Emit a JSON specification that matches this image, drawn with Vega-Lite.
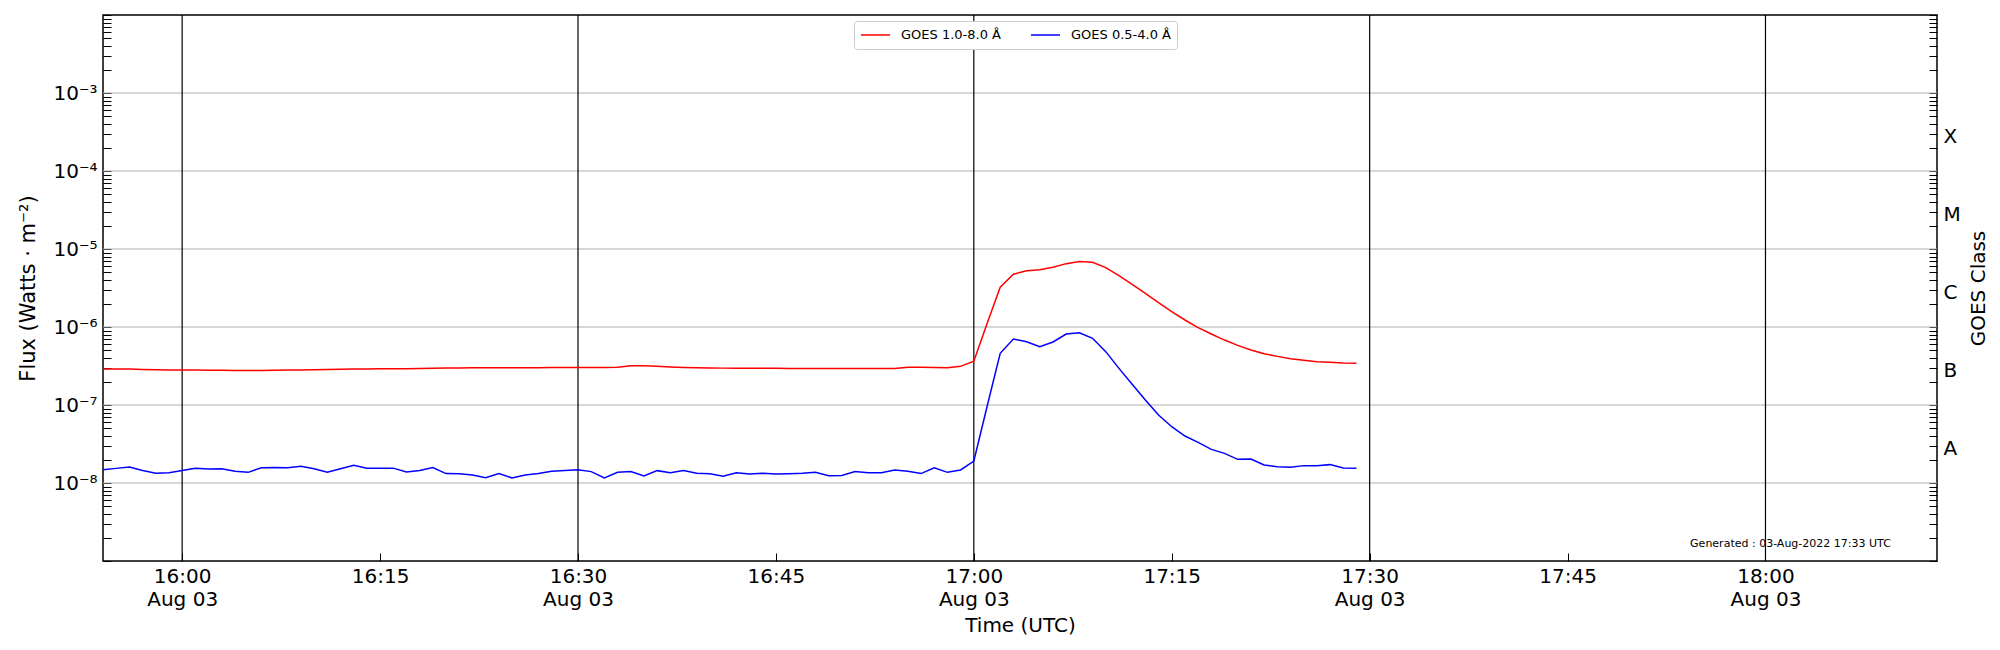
{
  "$schema": "https://vega.github.io/schema/vega-lite/v6.json",
  "width": 1834,
  "height": 546,
  "autosize": {"type": "none"},
  "padding": {"left": 103, "top": 15, "right": 63, "bottom": 89},
  "background": "white",
  "config": {
    "font": "DejaVu Sans",
    "view": {"stroke": "black", "strokeWidth": 1.5},
    "axis": {
      "grid": false,
      "domain": false,
      "tickColor": "black",
      "tickWidth": 1,
      "labelColor": "black",
      "titleColor": "black",
      "labelFont": "DejaVu Sans",
      "titleFont": "DejaVu Sans",
      "labelFontSize": 20,
      "titleFontSize": 20,
      "titleFontWeight": "normal",
      "labelFlush": false,
      "labelBound": false,
      "labelOverlap": false
    },
    "legend": {
      "orient": "none",
      "legendX": 751,
      "legendY": 6,
      "direction": "horizontal",
      "fillColor": "white",
      "strokeColor": "#cccccc",
      "cornerRadius": 3,
      "padding": 6,
      "symbolType": "stroke",
      "symbolSize": 841,
      "symbolStrokeWidth": 1.5,
      "clipHeight": 16,
      "labelFont": "DejaVu Sans",
      "labelFontSize": 13,
      "labelColor": "black",
      "labelOffset": 10,
      "columnPadding": 29
    }
  },
  "datasets": {
    "flux": [
      {"t": "2022-08-03T15:54:00Z", "long": 2.90e-7, "short": 1.48e-8},
      {"t": "2022-08-03T15:55:00Z", "long": 2.90e-7, "short": 1.54e-8},
      {"t": "2022-08-03T15:56:00Z", "long": 2.89e-7, "short": 1.60e-8},
      {"t": "2022-08-03T15:57:00Z", "long": 2.85e-7, "short": 1.45e-8},
      {"t": "2022-08-03T15:58:00Z", "long": 2.83e-7, "short": 1.33e-8},
      {"t": "2022-08-03T15:59:00Z", "long": 2.82e-7, "short": 1.35e-8},
      {"t": "2022-08-03T16:00:00Z", "long": 2.81e-7, "short": 1.45e-8},
      {"t": "2022-08-03T16:01:00Z", "long": 2.80e-7, "short": 1.54e-8},
      {"t": "2022-08-03T16:02:00Z", "long": 2.79e-7, "short": 1.51e-8},
      {"t": "2022-08-03T16:03:00Z", "long": 2.79e-7, "short": 1.52e-8},
      {"t": "2022-08-03T16:04:00Z", "long": 2.77e-7, "short": 1.41e-8},
      {"t": "2022-08-03T16:05:00Z", "long": 2.76e-7, "short": 1.37e-8},
      {"t": "2022-08-03T16:06:00Z", "long": 2.77e-7, "short": 1.57e-8},
      {"t": "2022-08-03T16:07:00Z", "long": 2.79e-7, "short": 1.58e-8},
      {"t": "2022-08-03T16:08:00Z", "long": 2.80e-7, "short": 1.57e-8},
      {"t": "2022-08-03T16:09:00Z", "long": 2.82e-7, "short": 1.64e-8},
      {"t": "2022-08-03T16:10:00Z", "long": 2.84e-7, "short": 1.52e-8},
      {"t": "2022-08-03T16:11:00Z", "long": 2.85e-7, "short": 1.37e-8},
      {"t": "2022-08-03T16:12:00Z", "long": 2.87e-7, "short": 1.52e-8},
      {"t": "2022-08-03T16:13:00Z", "long": 2.89e-7, "short": 1.69e-8},
      {"t": "2022-08-03T16:14:00Z", "long": 2.90e-7, "short": 1.55e-8},
      {"t": "2022-08-03T16:15:00Z", "long": 2.91e-7, "short": 1.54e-8},
      {"t": "2022-08-03T16:16:00Z", "long": 2.92e-7, "short": 1.55e-8},
      {"t": "2022-08-03T16:17:00Z", "long": 2.92e-7, "short": 1.38e-8},
      {"t": "2022-08-03T16:18:00Z", "long": 2.93e-7, "short": 1.45e-8},
      {"t": "2022-08-03T16:19:00Z", "long": 2.95e-7, "short": 1.58e-8},
      {"t": "2022-08-03T16:20:00Z", "long": 2.98e-7, "short": 1.32e-8},
      {"t": "2022-08-03T16:21:00Z", "long": 2.99e-7, "short": 1.31e-8},
      {"t": "2022-08-03T16:22:00Z", "long": 3.00e-7, "short": 1.27e-8},
      {"t": "2022-08-03T16:23:00Z", "long": 3.00e-7, "short": 1.17e-8},
      {"t": "2022-08-03T16:24:00Z", "long": 3.00e-7, "short": 1.32e-8},
      {"t": "2022-08-03T16:25:00Z", "long": 3.01e-7, "short": 1.16e-8},
      {"t": "2022-08-03T16:26:00Z", "long": 3.01e-7, "short": 1.27e-8},
      {"t": "2022-08-03T16:27:00Z", "long": 3.01e-7, "short": 1.32e-8},
      {"t": "2022-08-03T16:28:00Z", "long": 3.02e-7, "short": 1.41e-8},
      {"t": "2022-08-03T16:29:00Z", "long": 3.02e-7, "short": 1.45e-8},
      {"t": "2022-08-03T16:30:00Z", "long": 3.02e-7, "short": 1.48e-8},
      {"t": "2022-08-03T16:31:00Z", "long": 3.02e-7, "short": 1.40e-8},
      {"t": "2022-08-03T16:32:00Z", "long": 3.03e-7, "short": 1.16e-8},
      {"t": "2022-08-03T16:33:00Z", "long": 3.05e-7, "short": 1.37e-8},
      {"t": "2022-08-03T16:34:00Z", "long": 3.18e-7, "short": 1.40e-8},
      {"t": "2022-08-03T16:35:00Z", "long": 3.18e-7, "short": 1.23e-8},
      {"t": "2022-08-03T16:36:00Z", "long": 3.13e-7, "short": 1.44e-8},
      {"t": "2022-08-03T16:37:00Z", "long": 3.08e-7, "short": 1.35e-8},
      {"t": "2022-08-03T16:38:00Z", "long": 3.03e-7, "short": 1.45e-8},
      {"t": "2022-08-03T16:39:00Z", "long": 3.00e-7, "short": 1.33e-8},
      {"t": "2022-08-03T16:40:00Z", "long": 2.98e-7, "short": 1.31e-8},
      {"t": "2022-08-03T16:41:00Z", "long": 2.97e-7, "short": 1.22e-8},
      {"t": "2022-08-03T16:42:00Z", "long": 2.96e-7, "short": 1.35e-8},
      {"t": "2022-08-03T16:43:00Z", "long": 2.96e-7, "short": 1.30e-8},
      {"t": "2022-08-03T16:44:00Z", "long": 2.95e-7, "short": 1.33e-8},
      {"t": "2022-08-03T16:45:00Z", "long": 2.95e-7, "short": 1.30e-8},
      {"t": "2022-08-03T16:46:00Z", "long": 2.94e-7, "short": 1.31e-8},
      {"t": "2022-08-03T16:47:00Z", "long": 2.94e-7, "short": 1.33e-8},
      {"t": "2022-08-03T16:48:00Z", "long": 2.94e-7, "short": 1.37e-8},
      {"t": "2022-08-03T16:49:00Z", "long": 2.93e-7, "short": 1.24e-8},
      {"t": "2022-08-03T16:50:00Z", "long": 2.93e-7, "short": 1.25e-8},
      {"t": "2022-08-03T16:51:00Z", "long": 2.93e-7, "short": 1.40e-8},
      {"t": "2022-08-03T16:52:00Z", "long": 2.93e-7, "short": 1.35e-8},
      {"t": "2022-08-03T16:53:00Z", "long": 2.93e-7, "short": 1.35e-8},
      {"t": "2022-08-03T16:54:00Z", "long": 2.94e-7, "short": 1.47e-8},
      {"t": "2022-08-03T16:55:00Z", "long": 3.05e-7, "short": 1.41e-8},
      {"t": "2022-08-03T16:56:00Z", "long": 3.05e-7, "short": 1.32e-8},
      {"t": "2022-08-03T16:57:00Z", "long": 3.02e-7, "short": 1.57e-8},
      {"t": "2022-08-03T16:58:00Z", "long": 3.01e-7, "short": 1.37e-8},
      {"t": "2022-08-03T16:59:00Z", "long": 3.13e-7, "short": 1.47e-8},
      {"t": "2022-08-03T17:00:00Z", "long": 3.65e-7, "short": 1.91e-8},
      {"t": "2022-08-03T17:01:00Z", "long": 1.10e-6, "short": 9.5e-8},
      {"t": "2022-08-03T17:02:00Z", "long": 3.24e-6, "short": 4.6e-7},
      {"t": "2022-08-03T17:03:00Z", "long": 4.74e-6, "short": 7.0e-7},
      {"t": "2022-08-03T17:04:00Z", "long": 5.27e-6, "short": 6.48e-7},
      {"t": "2022-08-03T17:05:00Z", "long": 5.43e-6, "short": 5.6e-7},
      {"t": "2022-08-03T17:06:00Z", "long": 5.82e-6, "short": 6.42e-7},
      {"t": "2022-08-03T17:07:00Z", "long": 6.49e-6, "short": 8.13e-7},
      {"t": "2022-08-03T17:08:00Z", "long": 6.89e-6, "short": 8.45e-7},
      {"t": "2022-08-03T17:09:00Z", "long": 6.75e-6, "short": 7.16e-7},
      {"t": "2022-08-03T17:10:00Z", "long": 5.77e-6, "short": 4.83e-7},
      {"t": "2022-08-03T17:11:00Z", "long": 4.55e-6, "short": 2.95e-7},
      {"t": "2022-08-03T17:12:00Z", "long": 3.52e-6, "short": 1.84e-7},
      {"t": "2022-08-03T17:13:00Z", "long": 2.70e-6, "short": 1.16e-7},
      {"t": "2022-08-03T17:14:00Z", "long": 2.05e-6, "short": 7.44e-8},
      {"t": "2022-08-03T17:15:00Z", "long": 1.57e-6, "short": 5.27e-8},
      {"t": "2022-08-03T17:16:00Z", "long": 1.23e-6, "short": 4.0e-8},
      {"t": "2022-08-03T17:17:00Z", "long": 9.8e-7, "short": 3.32e-8},
      {"t": "2022-08-03T17:18:00Z", "long": 8.13e-7, "short": 2.7e-8},
      {"t": "2022-08-03T17:19:00Z", "long": 6.8e-7, "short": 2.4e-8},
      {"t": "2022-08-03T17:20:00Z", "long": 5.82e-7, "short": 2.01e-8},
      {"t": "2022-08-03T17:21:00Z", "long": 5.07e-7, "short": 2.03e-8},
      {"t": "2022-08-03T17:22:00Z", "long": 4.55e-7, "short": 1.7e-8},
      {"t": "2022-08-03T17:23:00Z", "long": 4.2e-7, "short": 1.62e-8},
      {"t": "2022-08-03T17:24:00Z", "long": 3.93e-7, "short": 1.59e-8},
      {"t": "2022-08-03T17:25:00Z", "long": 3.74e-7, "short": 1.67e-8},
      {"t": "2022-08-03T17:26:00Z", "long": 3.59e-7, "short": 1.67e-8},
      {"t": "2022-08-03T17:27:00Z", "long": 3.52e-7, "short": 1.72e-8},
      {"t": "2022-08-03T17:28:00Z", "long": 3.45e-7, "short": 1.56e-8},
      {"t": "2022-08-03T17:29:00Z", "long": 3.42e-7, "short": 1.54e-8}
    ]
  },
  "layer": [
    {
      "data": {"values": [{"g": 1e-8}, {"g": 1e-7}, {"g": 1e-6}, {"g": 1e-5}, {"g": 1e-4}, {"g": 1e-3}]},
      "mark": {"type": "rule", "color": "#b0b0b0", "strokeWidth": 1.2},
      "encoding": {
        "y": {
          "field": "g", "type": "quantitative",
          "scale": {"type": "log", "domain": [1e-9, 1e-2], "nice": false, "zero": false},
          "axis": {
            "orient": "right",
            "title": "GOES Class",
            "titleAngle": 270,
            "titlePadding": 28,
            "tickSize": -8,
            "labelPadding": 14,
            "labelOffset": 3,
            "labelBaseline": "middle",
            "values": [1e-9, 2e-9, 3e-9, 4e-9, 5e-9, 6e-9, 7e-9, 8e-9, 9e-9, 1e-8, 2e-8, 3e-8, 4e-8, 5e-8, 6e-8, 7e-8, 8e-8, 9e-8, 1e-7, 2e-7, 3e-7, 4e-7, 5e-7, 6e-7, 7e-7, 8e-7, 9e-7, 1e-6, 2e-6, 3e-6, 4e-6, 5e-6, 6e-6, 7e-6, 8e-6, 9e-6, 1e-5, 2e-5, 3e-5, 4e-5, 5e-5, 6e-5, 7e-5, 8e-5, 9e-5, 1e-4, 2e-4, 3e-4, 4e-4, 5e-4, 6e-4, 7e-4, 8e-4, 9e-4, 1e-3, 2e-3, 3e-3, 4e-3, 5e-3, 6e-3, 7e-3, 8e-3, 9e-3, 1e-2],
            "labelExpr": "datum.value == 3e-8 ? 'A' : datum.value == 3e-7 ? 'B' : datum.value == 3e-6 ? 'C' : datum.value == 3e-5 ? 'M' : datum.value == 3e-4 ? 'X' : ''"
          }
        }
      }
    },
    {
      "data": {"values": [{"v": "2022-08-03T16:00:00Z"}, {"v": "2022-08-03T16:30:00Z"}, {"v": "2022-08-03T17:00:00Z"}, {"v": "2022-08-03T17:30:00Z"}, {"v": "2022-08-03T18:00:00Z"}]},
      "mark": {"type": "rule", "color": "black", "strokeWidth": 1.2},
      "encoding": {
        "x": {
          "field": "v", "type": "temporal",
          "scale": {"type": "utc", "domain": [{"year": 2022, "month": 8, "date": 3, "hours": 15, "minutes": 54, "utc": true}, {"year": 2022, "month": 8, "date": 3, "hours": 18, "minutes": 13, "utc": true}], "nice": false},
          "axis": {
            "orient": "bottom",
            "title": "Time (UTC)",
            "titlePadding": 6,
            "tickSize": -8,
            "labelPadding": 13,
            "labelBaseline": "top",
            "labelLineHeight": 23,
            "values": [
              {"year": 2022, "month": 8, "date": 3, "hours": 16, "minutes": 0, "utc": true},
              {"year": 2022, "month": 8, "date": 3, "hours": 16, "minutes": 15, "utc": true},
              {"year": 2022, "month": 8, "date": 3, "hours": 16, "minutes": 30, "utc": true},
              {"year": 2022, "month": 8, "date": 3, "hours": 16, "minutes": 45, "utc": true},
              {"year": 2022, "month": 8, "date": 3, "hours": 17, "minutes": 0, "utc": true},
              {"year": 2022, "month": 8, "date": 3, "hours": 17, "minutes": 15, "utc": true},
              {"year": 2022, "month": 8, "date": 3, "hours": 17, "minutes": 30, "utc": true},
              {"year": 2022, "month": 8, "date": 3, "hours": 17, "minutes": 45, "utc": true},
              {"year": 2022, "month": 8, "date": 3, "hours": 18, "minutes": 0, "utc": true}
            ],
            "labelExpr": "utcminutes(datum.value) % 30 == 0 ? [utcFormat(datum.value, '%H:%M'), utcFormat(datum.value, '%b %d')] : utcFormat(datum.value, '%H:%M')"
          }
        }
      }
    },
    {
      "data": {"name": "flux"},
      "transform": [{"fold": ["long", "short"], "as": ["band", "flux"]}],
      "mark": {"type": "line", "strokeWidth": 1.5, "interpolate": "linear"},
      "encoding": {
        "x": {
          "field": "t", "type": "temporal",
          "scale": {"type": "utc", "domain": [{"year": 2022, "month": 8, "date": 3, "hours": 15, "minutes": 54, "utc": true}, {"year": 2022, "month": 8, "date": 3, "hours": 18, "minutes": 13, "utc": true}], "nice": false}
        },
        "y": {
          "field": "flux", "type": "quantitative",
          "scale": {"type": "log", "domain": [1e-9, 1e-2], "nice": false, "zero": false},
          "axis": {
            "orient": "left",
            "title": "Flux (Watts · m⁻²)",
            "titleFontSize": 21,
            "titlePadding": 14,
            "tickSize": -8,
            "labelPadding": 14,
            "labelBaseline": "middle",
            "values": [1e-9, 2e-9, 3e-9, 4e-9, 5e-9, 6e-9, 7e-9, 8e-9, 9e-9, 1e-8, 2e-8, 3e-8, 4e-8, 5e-8, 6e-8, 7e-8, 8e-8, 9e-8, 1e-7, 2e-7, 3e-7, 4e-7, 5e-7, 6e-7, 7e-7, 8e-7, 9e-7, 1e-6, 2e-6, 3e-6, 4e-6, 5e-6, 6e-6, 7e-6, 8e-6, 9e-6, 1e-5, 2e-5, 3e-5, 4e-5, 5e-5, 6e-5, 7e-5, 8e-5, 9e-5, 1e-4, 2e-4, 3e-4, 4e-4, 5e-4, 6e-4, 7e-4, 8e-4, 9e-4, 1e-3, 2e-3, 3e-3, 4e-3, 5e-3, 6e-3, 7e-3, 8e-3, 9e-3, 1e-2],
            "labelExpr": "datum.value == 1e-8 ? '10⁻⁸' : datum.value == 1e-7 ? '10⁻⁷' : datum.value == 1e-6 ? '10⁻⁶' : datum.value == 1e-5 ? '10⁻⁵' : datum.value == 1e-4 ? '10⁻⁴' : datum.value == 1e-3 ? '10⁻³' : ''"
          }
        },
        "color": {
          "field": "band", "type": "nominal",
          "scale": {"domain": ["long", "short"], "range": ["red", "blue"]},
          "legend": {
            "title": null,
            "labelExpr": "datum.value == 'long' ? 'GOES 1.0-8.0 Å' : 'GOES 0.5-4.0 Å'"
          }
        }
      }
    },
    {
      "data": {"values": [{"t": "2022-08-03T18:09:30Z", "v": 1.63e-9, "s": "Generated : 03-Aug-2022 17:33 UTC"}]},
      "mark": {"type": "text", "align": "right", "baseline": "middle", "fontSize": 11, "font": "DejaVu Sans", "color": "black"},
      "encoding": {
        "x": {
          "field": "t", "type": "temporal",
          "scale": {"type": "utc", "domain": [{"year": 2022, "month": 8, "date": 3, "hours": 15, "minutes": 54, "utc": true}, {"year": 2022, "month": 8, "date": 3, "hours": 18, "minutes": 13, "utc": true}], "nice": false}
        },
        "y": {
          "field": "v", "type": "quantitative",
          "scale": {"type": "log", "domain": [1e-9, 1e-2], "nice": false, "zero": false},
          "axis": null
        },
        "text": {"field": "s"}
      }
    }
  ],
  "resolve": {"scale": {"y": "independent"}, "axis": {"y": "independent"}}
}
